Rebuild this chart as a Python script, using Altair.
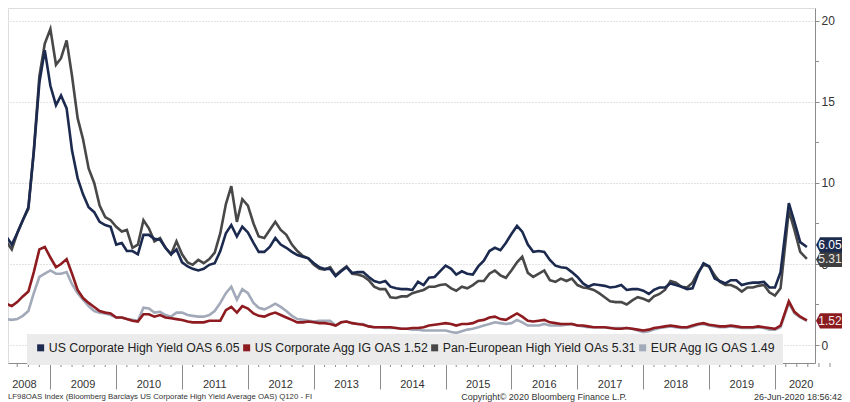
import altair as alt
import pandas as pd

# ---------------- data ----------------
dates = list(pd.date_range("2008-04-01", "2020-02-01", freq="MS").strftime("%Y-%m-%d")) + [
    "2020-03-18", "2020-04-18", "2020-05-20", "2020-06-26"]

us_hy = [7.7, 6.7, 6.2, 6.9, 7.7, 8.5, 11.9, 16.2, 18.2, 16.0,
         14.8, 15.4, 14.6, 12.0, 10.3, 9.3, 8.5, 8.2, 7.6, 7.4,
         7.3, 6.2, 6.3, 5.8, 5.8, 5.6, 6.8, 6.8, 6.55, 6.5,
         6.0, 5.6, 5.9, 5.1, 4.85, 4.7, 4.6, 4.7, 4.95, 5.05,
         5.8, 6.9, 7.4, 6.7, 7.3, 6.95, 6.3, 5.75, 5.75, 6.05,
         6.6, 6.2, 6.0, 5.75, 5.55, 5.45, 5.35, 5.05, 4.8, 4.7,
         4.7, 4.25, 4.55, 4.8, 4.45, 4.5, 4.5, 4.2, 3.95, 3.85,
         3.95, 3.6, 3.5, 3.45, 3.45, 3.4, 3.9, 3.7, 4.15, 4.2,
         4.55, 4.9, 4.7, 4.35, 4.55, 4.4, 4.35, 4.85, 5.2, 5.8,
         6.0, 5.85, 6.3, 6.85, 7.35, 7.0, 6.2, 5.75, 5.8, 5.75,
         5.25, 4.9, 4.8, 4.75, 4.5, 4.2, 3.8, 3.6, 3.75, 3.7,
         3.65, 3.55, 3.6, 3.7, 3.4, 3.45, 3.45, 3.35, 3.15, 3.4,
         3.55, 3.55, 3.8, 3.7, 3.6, 3.45, 3.5, 4.4, 5.05, 4.85,
         4.1, 3.95, 3.8, 4.0, 4.0, 3.7, 3.8, 3.85, 3.85, 3.9,
         3.55, 3.55, 4.5,
         8.75, 7.6, 6.35, 6.05]

us_ig = [2.85, 2.55, 2.4, 2.65, 3.0, 3.3, 4.5, 5.9, 6.05, 5.4,
         4.8, 5.0, 5.3, 4.4, 3.4, 2.9, 2.6, 2.35, 2.1, 2.0,
         1.95, 1.7, 1.7, 1.6, 1.5, 1.45, 1.9, 1.9, 1.75, 1.85,
         1.7, 1.65, 1.6, 1.55, 1.45, 1.4, 1.4, 1.4, 1.5, 1.5,
         1.5, 2.15, 2.35, 2.0, 2.4, 2.25, 1.95, 1.8, 1.75, 1.9,
         2.0, 1.85, 1.7, 1.55, 1.4, 1.4, 1.45, 1.4, 1.35, 1.35,
         1.3, 1.2, 1.4, 1.45, 1.35, 1.3, 1.25, 1.15, 1.1, 1.1,
         1.1, 1.1, 1.05, 1.0, 1.0, 1.05, 1.05, 1.1, 1.2, 1.25,
         1.3, 1.35, 1.3, 1.2, 1.3, 1.3, 1.35, 1.5, 1.55, 1.7,
         1.75, 1.6, 1.55, 1.75, 1.95, 1.75, 1.5, 1.45, 1.5, 1.55,
         1.4, 1.35, 1.3, 1.3, 1.3, 1.2, 1.2, 1.15, 1.1, 1.1,
         1.1, 1.05, 1.0, 1.0, 1.05, 1.0, 0.95, 0.9, 0.95, 1.05,
         1.1, 1.15, 1.2, 1.15, 1.1, 1.1, 1.2, 1.3, 1.35, 1.25,
         1.2, 1.15, 1.15, 1.2, 1.15, 1.1, 1.1, 1.1, 1.15, 1.1,
         1.05, 1.0, 1.2,
         2.7, 2.05, 1.75, 1.52]

pan_eu_hy = [7.4, 6.4, 5.9, 6.9, 7.7, 8.4, 12.0, 16.6, 18.6, 19.5,
             17.3, 17.7, 18.8, 16.6, 14.0, 12.7, 10.9, 10.0, 8.6, 7.9,
             7.7, 7.3, 7.0, 7.1, 6.0, 6.2, 7.7, 7.2, 6.4, 6.6,
             6.0, 5.6, 6.4, 5.6, 5.1, 4.95, 5.25, 5.05, 5.3, 5.7,
             6.9, 8.7, 9.8, 7.6, 9.0, 8.6, 7.5, 6.7, 6.6, 7.1,
             7.6, 7.1, 6.8, 6.2, 5.8, 5.5, 5.35, 4.95, 4.7, 4.65,
             4.8, 4.3, 4.6, 4.85, 4.4, 4.35, 4.25, 4.0, 3.6, 3.45,
             3.45, 2.95, 2.9, 3.0, 3.0, 3.2, 3.3, 3.4, 3.6, 3.6,
             3.7, 3.75, 3.5, 3.35, 3.6, 3.5, 3.7, 3.95, 3.95, 4.4,
             4.6, 4.3, 4.15, 4.6, 5.1, 5.45, 4.45, 4.2, 4.4, 4.6,
             4.0, 3.9, 4.1, 3.95, 4.1, 3.7, 3.55, 3.5, 3.4, 3.2,
             2.95, 2.7, 2.65, 2.65, 2.5, 2.75, 2.95, 2.85, 2.7, 3.0,
             3.15, 3.4, 3.95, 3.85, 3.6, 3.55, 3.85, 4.5, 4.95, 4.85,
             4.3, 3.9, 3.7, 3.7, 3.55, 3.3, 3.55, 3.55, 3.65, 3.7,
             3.25, 3.05, 3.5,
             8.3, 7.1, 5.75, 5.31]

eur_ig = [1.8, 1.6, 1.55, 1.6, 1.8, 2.1, 3.2, 4.2, 4.4, 4.6,
          4.4, 4.4, 4.5, 3.75, 3.2, 2.8, 2.4, 2.1, 2.0, 1.95,
          1.85, 1.7, 1.7, 1.6, 1.55, 1.5, 2.3, 2.25, 2.0, 2.05,
          1.85, 1.75, 2.0, 2.0, 1.85, 1.8, 1.75, 1.75, 1.85, 2.1,
          2.6, 3.2, 3.6, 2.8, 3.45, 3.2, 2.6, 2.3, 2.2, 2.35,
          2.55, 2.35, 2.1, 1.8, 1.6, 1.55, 1.5, 1.45, 1.5, 1.5,
          1.5, 1.2, 1.4, 1.45, 1.35, 1.3, 1.3, 1.15, 1.1, 1.1,
          1.05, 1.05, 1.05, 1.0, 1.0, 0.95, 0.95, 0.9, 0.9, 0.9,
          0.9, 0.9, 0.8, 0.75, 0.85, 0.95, 1.0, 1.1, 1.2, 1.3,
          1.4, 1.35, 1.3, 1.35, 1.55, 1.4, 1.2, 1.2, 1.2, 1.3,
          1.2, 1.2, 1.2, 1.25, 1.3, 1.2, 1.15, 1.1, 1.1, 1.1,
          1.1, 1.05, 1.05, 1.05, 1.05, 1.0, 0.9, 0.8, 0.85, 0.95,
          1.05, 1.1, 1.15, 1.1, 1.05, 1.05, 1.15, 1.25, 1.3, 1.2,
          1.15, 1.1, 1.1, 1.15, 1.1, 1.05, 1.05, 1.05, 1.1, 1.05,
          0.95, 0.95, 1.1,
          2.6, 1.95, 1.7, 1.49]

series_names = ["US Corporate High Yield OAS 6.05", "US Corporate Agg IG OAS 1.52",
                "Pan-European High Yield OAs 5.31", "EUR Agg IG OAS 1.49"]
series_colors = ["#1b2a4e", "#8e1b1f", "#484848", "#a2aab9"]
series_values = [us_hy, us_ig, pan_eu_hy, eur_ig]
draw_order = [3, 2, 1, 0]  # EUR IG first, US HY last (on top)

# last-value tags (the 6.05 tag is nudged up so it does not collide with 5.31)
tag_labels = ["5.31", "1.52", "6.05"]
tag_anchor = [5.28, 1.49, 6.18]
tag_fill = ["#3f3f3f", "#8a1c20", "#1d2b4f"]
tag_text_color = ["#e6e6e6", "#f4e6e6", "#ffffff"]

year_labels = [str(y) for y in range(2008, 2021)]
year_label_dates = ["2008-08-10"] + [f"{y}-07-01" for y in range(2009, 2020)] + ["2020-05-25"]
year_starts = [f"{y}-01-01" for y in range(2009, 2021)]
minor_x_ticks = [f"{y}-{m:02d}-01" for y in range(2008, 2021) for m in (3, 5, 7, 9, 11)]
minor_y_ticks = [2.5, 7.5, 12.5, 17.5]
major_y_ticks = [0, 5, 10, 15, 20]

footer_left = "LF98OAS Index (Bloomberg Barclays US Corporate High Yield Average OAS) Q120 - FI"
footer_mid = "Copyright\u00a9 2020 Bloomberg Finance L.P."
footer_right = "26-Jun-2020 18:56:42"

# ---------------- tables ----------------
rows = []
for i in draw_order:
    for d, v in zip(dates, series_values[i]):
        rows.append({"date": d, "value": v, "series": series_names[i]})
df = pd.DataFrame(rows)

tags = pd.DataFrame({"label": tag_labels, "value": tag_anchor,
                     "fill": tag_fill, "tc": tag_text_color})
years_df = pd.DataFrame({"label": year_labels, "date": year_label_dates})
minor_x_df = pd.DataFrame({"date": minor_x_ticks})
minor_y_df = pd.DataFrame({"value": minor_y_ticks})
one_row = pd.DataFrame({"k": [0]})

FONT = "Liberation Sans"
W, H = 807, 355
AXC = "#8c8c8c"

x_scale = alt.Scale(domain=[alt.DateTime(year=2008, month=5, date=11),
                            alt.DateTime(year=2020, month=8, date=10)])
y_scale = alt.Scale(domain=[-1.11, 20.8], nice=False, zero=False)

x_axis = alt.Axis(values=year_starts, labels=False, grid=False, title=None,
                  domainColor=AXC, tickColor=AXC, tickSize=26)
y_axis = alt.Axis(orient="right", values=major_y_ticks, format="d", title=None,
                  grid=True, gridDash=[1, 2], gridColor="#c4c4c4",
                  tickSize=4, tickColor=AXC, domainColor=AXC,
                  labelFontSize=12, labelColor="#333333", labelFont=FONT,
                  labelPadding=2)

X = alt.X("date:T", scale=x_scale, axis=x_axis)
Y = alt.Y("value:Q", scale=y_scale, axis=y_axis)

lines = alt.Chart(df).mark_line(strokeWidth=2.6, clip=True).encode(
    x=X, y=Y,
    color=alt.Color("series:N", scale=alt.Scale(domain=series_names, range=series_colors),
                    legend=alt.Legend(orient="none", legendX=19, legendY=326,
                                      direction="horizontal", columns=4, title=None,
                                      symbolType="square", symbolSize=9, symbolStrokeWidth=4,
                                      labelFontSize=12.3, labelFont=FONT, labelColor="#222222",
                                      labelLimit=0, labelOffset=2, columnPadding=-10,
                                      fillColor="#ebebeb", padding=7.5)),
)

minor_x = alt.Chart(minor_x_df).mark_rule(color=AXC, strokeWidth=1).encode(
    x=X, y=alt.value(H), y2=alt.value(H + 4))
minor_y = alt.Chart(minor_y_df).mark_rule(color=AXC, strokeWidth=1).encode(
    y=Y, x=alt.value(W), x2=alt.value(W + 4))

tag_shape = "M -1 0 L -0.69 -0.58 L 1 -0.58 L 1 0.58 L -0.69 0.58 Z"
tag_marks = alt.Chart(tags).mark_point(shape=tag_shape, filled=True, size=676,
                                       opacity=1, strokeWidth=0).encode(
    x=alt.value(W + 14), y=Y,
    color=alt.Color("fill:N", scale=None),
)
tag_text = alt.Chart(tags).mark_text(fontSize=12, font=FONT, baseline="middle",
                                     align="center").encode(
    x=alt.value(W + 15), y=Y,
    text="label:N",
    color=alt.Color("tc:N", scale=None),
)

year_text = alt.Chart(years_df).mark_text(fontSize=11, font=FONT, color="#333333",
                                          baseline="middle", align="center").encode(
    x=X, y=alt.value(377), text="label:N")

foot_l = alt.Chart(one_row).mark_text(text=footer_left, fontSize=7.8, font=FONT,
                                      color="#333333", align="left",
                                      baseline="middle").encode(
    x=alt.value(0), y=alt.value(389))
foot_m = alt.Chart(one_row).mark_text(text=footer_mid, fontSize=9, font=FONT,
                                      color="#333333", align="center",
                                      baseline="middle").encode(
    x=alt.value(536), y=alt.value(389))
foot_r = alt.Chart(one_row).mark_text(text=footer_right, fontSize=9, font=FONT,
                                      color="#333333", align="right",
                                      baseline="middle").encode(
    x=alt.value(834), y=alt.value(389))

chart = alt.layer(lines, minor_x, minor_y, tag_marks, tag_text, year_text,
                  foot_l, foot_m, foot_r).properties(
    width=W, height=H,
    autosize=alt.AutoSizeParams(type="none"),
    padding={"left": 0, "top": 0, "right": 27, "bottom": 39},
    background="white",
).configure_view(strokeWidth=0).configure(font=FONT)

chart.save("out.html", embed_options={"renderer": "svg", "actions": False})
